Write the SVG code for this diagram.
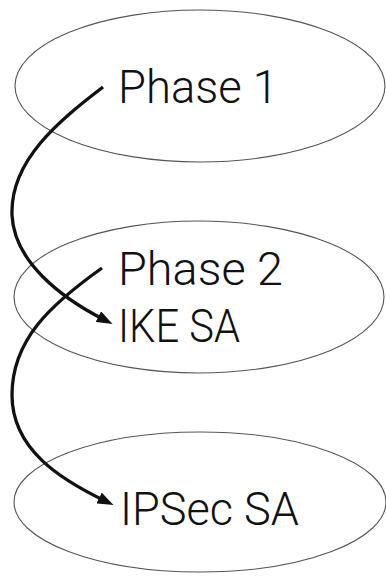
<svg xmlns="http://www.w3.org/2000/svg" width="386" height="581" viewBox="0 0 386 581">
<style>
.node ellipse{fill:none;stroke:#555;stroke-width:1.1}
.node text{font-family:Roboto,"Liberation Sans",sans-serif;font-weight:300;font-size:47px;fill:#111}
.conn path{fill:none;stroke:#111;stroke-width:3.3}
</style>
<defs>
<marker id="ah" viewBox="0 0 16 12" refX="5" refY="6" markerWidth="16" markerHeight="12" markerUnits="userSpaceOnUse" orient="auto">
<path d="M0,0 L16,6 L0,12 z" fill="#111"/>
</marker>
</defs>
<rect width="386" height="581" fill="#fff"/>
<g id="phase1" class="node">
<ellipse cx="200" cy="86" rx="185" ry="76"/>
<text x="118" y="103" textLength="160" lengthAdjust="spacingAndGlyphs">Phase 1</text>
</g>
<g id="phase2" class="node">
<ellipse cx="199" cy="297" rx="185" ry="76"/>
<text x="118" y="285" textLength="165" lengthAdjust="spacingAndGlyphs">Phase 2</text>
<text x="118" y="342" textLength="122" lengthAdjust="spacingAndGlyphs">IKE SA</text>
</g>
<g id="ipsec" class="node">
<ellipse cx="200" cy="502" rx="186" ry="70"/>
<text x="120" y="525" textLength="179" lengthAdjust="spacingAndGlyphs">IPSec SA</text>
</g>
<g id="connectors" class="conn">
<path d="M103,87 C60,120 10,160 12,215 C14,262 62,298 102.8,319" marker-end="url(#ah)"/>
<path d="M102,268 C50,305 12,340 12,395 C12,450 62,480 103.6,500.2" marker-end="url(#ah)"/>
</g>
</svg>
